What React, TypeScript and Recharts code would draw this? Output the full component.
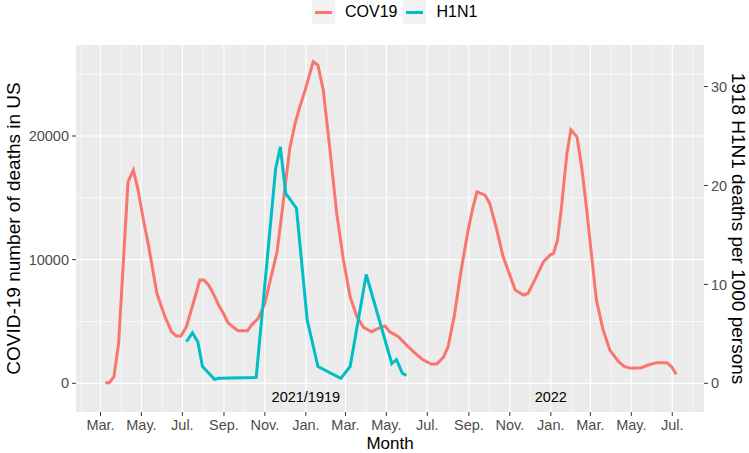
import { LineChart, Line, XAxis, YAxis, CartesianGrid, ReferenceDot } from 'recharts';

// weekly US COVID-19 deaths
const covDates = [
  '2020-03-08', '2020-03-14', '2020-03-21', '2020-03-28', '2020-04-11', '2020-04-19', '2020-04-26',
  '2020-05-04', '2020-05-11', '2020-05-24', '2020-06-05', '2020-06-15', '2020-06-22', '2020-06-29',
  '2020-07-07', '2020-07-20', '2020-07-27', '2020-08-02', '2020-08-09', '2020-08-16', '2020-08-24',
  '2020-08-31', '2020-09-07', '2020-09-15', '2020-09-22', '2020-10-06', '2020-10-12', '2020-10-22',
  '2020-11-01', '2020-11-09', '2020-11-19', '2020-11-28', '2020-12-08', '2020-12-16', '2020-12-23',
  '2020-12-31', '2021-01-07', '2021-01-12', '2021-01-19', '2021-01-27', '2021-02-06', '2021-02-16',
  '2021-02-26', '2021-03-08', '2021-03-18', '2021-03-28', '2021-04-09', '2021-04-19', '2021-04-29',
  '2021-05-06', '2021-05-19', '2021-05-31', '2021-06-13', '2021-06-25', '2021-07-07', '2021-07-15',
  '2021-07-25', '2021-08-01', '2021-08-10', '2021-08-20', '2021-08-30', '2021-09-06', '2021-09-13',
  '2021-09-25', '2021-10-02', '2021-10-12', '2021-10-22', '2021-11-01', '2021-11-09', '2021-11-21',
  '2021-11-28', '2021-12-08', '2021-12-21', '2021-12-31', '2022-01-05', '2022-01-11', '2022-01-17',
  '2022-01-25', '2022-01-31', '2022-02-09', '2022-02-16', '2022-02-23', '2022-03-03', '2022-03-10',
  '2022-03-20', '2022-03-30', '2022-04-12', '2022-04-21', '2022-05-01', '2022-05-16', '2022-05-26',
  '2022-06-08', '2022-06-23', '2022-06-30', '2022-07-07',
];
const covDeaths = [
  50, 50, 530, 3230, 16300, 17240, 15630,
  13200, 11320, 7280, 5390, 4170, 3820, 3820,
  4580, 7000, 8350, 8350, 7950, 7270, 6330,
  5660, 4900, 4530, 4250, 4250, 4710, 5250,
  6470, 8350, 10600, 14500, 19000, 21020, 22360,
  23710, 25060, 26000, 25730, 23710, 18860, 13740,
  9970, 7000, 5390, 4530, 4170, 4450, 4630,
  4170, 3770, 3100, 2430, 1880, 1560, 1560,
  2100, 2960, 5390, 9000, 12130, 14010, 15490,
  15220, 14550, 12530, 10230, 8750, 7540, 7140,
  7270, 8350, 9830, 10370, 10510, 11580, 14280,
  18590, 20500, 19930, 17510, 14280, 10230, 6730,
  4310, 2690, 1750, 1340, 1210, 1260, 1480,
  1670, 1670, 1340, 730,
];

// 1918/1919 H1N1 deaths per 1000, shifted onto 2020/2021
const h1n1Dates = [
  '2020-07-07', '2020-07-16', '2020-07-24', '2020-07-31', '2020-08-18', '2020-08-24', '2020-10-19',
  '2020-11-17', '2020-11-24', '2020-12-02', '2020-12-18', '2021-01-03', '2021-01-19', '2021-02-22',
  '2021-03-08', '2021-04-01', '2021-05-09', '2021-05-16', '2021-05-25', '2021-05-31',
];
const h1n1Rate = [
  4.2, 5.1, 4.2, 1.7, 0.4, 0.5, 0.6,
  21.7, 23.9, 19.2, 17.7, 6.4, 1.7, 0.5,
  1.7, 11.0, 2.0, 2.4, 1.0, 0.8,
];

const majorMonths = [
  '2020-03-01', '2020-05-01', '2020-07-01', '2020-09-01', '2020-11-01', '2021-01-01', '2021-03-01',
  '2021-05-01', '2021-07-01', '2021-09-01', '2021-11-01', '2022-01-01', '2022-03-01', '2022-05-01',
  '2022-07-01',
];
const minorMonths = [
  '2020-02-01', '2020-04-01', '2020-06-01', '2020-08-01', '2020-10-01', '2020-12-01', '2021-02-01',
  '2021-04-01', '2021-06-01', '2021-08-01', '2021-10-01', '2021-12-01', '2022-02-01', '2022-04-01',
  '2022-06-01', '2022-08-01',
];
const monthNames = ['Jan.', 'Feb.', 'Mar.', 'Apr.', 'May.', 'Jun.', 'Jul.', 'Aug.', 'Sep.', 'Oct.', 'Nov.', 'Dec.'];
const leftTicks = [0, 10000, 20000];
const leftMinor = [5000, 15000, 25000];
const rightTicks = [0, 10, 20, 30];
const yearNotes = ['2021-01-01', '2022-01-01'];
const yearText = ['2021/1919', '2022'];

const ORIGIN = Date.UTC(2020, 2, 1);
const toDay = (d: string) => (Date.parse(d) - ORIGIN) / 86400000;

const covData = covDates.map((d, i) => ({ day: toDay(d), deaths: covDeaths[i] }));
const h1n1Data = h1n1Dates.map((d, i) => ({ day: toDay(d), rate: h1n1Rate[i] }));
const xTicks = majorMonths.map(toDay);
const monthLabel = (v: number) => monthNames[new Date(ORIGIN + v * 86400000).getUTCMonth()];

const FONT = '"Liberation Sans", Arial, Helvetica, sans-serif';
const COV_COLOR = '#F8766D';
const H1N1_COLOR = '#00BFC4';

function LeftTitle(props: any) {
  const { viewBox } = props;
  const cx = viewBox.x + 13;
  const cy = viewBox.y + viewBox.height / 2;
  return (
    <text x={cx} y={cy} transform={`rotate(-90 ${cx} ${cy})`} textAnchor="middle" dominantBaseline="central"
      fontSize={19} fill="#000" fontFamily={FONT}>
      COVID-19 number of deaths in US
    </text>
  );
}

function RightTitle(props: any) {
  const { viewBox } = props;
  const cx = viewBox.x + 34;
  const cy = viewBox.y + viewBox.height / 2;
  return (
    <text x={cx} y={cy} transform={`rotate(90 ${cx} ${cy})`} textAnchor="middle" dominantBaseline="central"
      fontSize={19} fill="#000" fontFamily={FONT}>
      1918 H1N1 deaths per 1000 persons
    </text>
  );
}

function BottomTitle(props: any) {
  const { viewBox } = props;
  return (
    <text x={viewBox.x + viewBox.width / 2} y={viewBox.y + 31.5} textAnchor="middle" dominantBaseline="central"
      fontSize={17} fill="#000" fontFamily={FONT}>
      Month
    </text>
  );
}

function LegendKey({ color, label }: { color: string; label: string }) {
  return (
    <div style={{ display: 'flex', alignItems: 'center', marginRight: 6 }}>
      <div style={{ width: 23, height: 24, background: '#F2F2F2', position: 'relative' }}>
        <div style={{ position: 'absolute', left: 3, right: 3, top: 11, height: 3, background: color }} />
      </div>
      <span style={{ marginLeft: 10, fontSize: 16, color: '#000' }}>{label}</span>
    </div>
  );
}

export default function App() {
  return (
    <div style={{ position: 'fixed', left: 0, top: 0, width: 749, height: 453, background: '#fff', fontFamily: FONT }}>
      <div style={{ position: 'absolute', left: 312, top: 0, display: 'flex' }}>
        <LegendKey color={COV_COLOR} label="COV19" />
        <LegendKey color={H1N1_COLOR} label="H1N1" />
      </div>
      <LineChart width={749} height={453} margin={{ top: 45, right: 0, bottom: 0, left: 0 }}>
        <CartesianGrid xAxisId="x" yAxisId="left" fill="#EBEBEB" fillOpacity={1} stroke="#FFFFFF" strokeWidth={0.6}
          horizontalValues={leftMinor} verticalValues={minorMonths.map(toDay)} />
        <CartesianGrid xAxisId="x" yAxisId="left" stroke="#FFFFFF" strokeWidth={1.2}
          horizontalValues={leftTicks} verticalValues={xTicks} />
        <XAxis xAxisId="x" dataKey="day" type="number" domain={[-36.5, 899.3]} allowDataOverflow ticks={xTicks}
          tickFormatter={monthLabel} height={41} axisLine={false} tickSize={4} tickMargin={4}
          tickLine={{ stroke: '#333333' }} tick={{ fill: '#4D4D4D', fontSize: 14.5, fontFamily: FONT }}
          label={{ content: BottomTitle }} />
        <YAxis yAxisId="left" type="number" domain={[-2320, 27360]} allowDataOverflow ticks={leftTicks} width={76}
          axisLine={false} tickSize={4} tickMargin={3} tickLine={{ stroke: '#333333' }}
          tick={{ fill: '#4D4D4D', fontSize: 14.5, fontFamily: FONT }} label={{ content: LeftTitle }} />
        <YAxis yAxisId="right" orientation="right" type="number" domain={[-2.9, 34.2]} allowDataOverflow
          ticks={rightTicks} width={45} axisLine={false} tickSize={4} tickMargin={3}
          tickLine={{ stroke: '#333333' }} tick={{ fill: '#4D4D4D', fontSize: 14.5, fontFamily: FONT }}
          label={{ content: RightTitle }} />
        <Line xAxisId="x" yAxisId="left" data={covData} dataKey="deaths" type="linear" stroke={COV_COLOR}
          strokeWidth={3} dot={false} isAnimationActive={false} />
        <Line xAxisId="x" yAxisId="right" data={h1n1Data} dataKey="rate" type="linear" stroke={H1N1_COLOR}
          strokeWidth={3} dot={false} isAnimationActive={false} />
        {yearNotes.map((d, i) => (
          <ReferenceDot key={d} xAxisId="x" yAxisId="left" x={toDay(d)} y={-1090} r={0} fill="none" stroke="none"
            label={{ value: yearText[i], position: 'center', fontSize: 14.5, fill: '#000', fontFamily: FONT }} />
        ))}
      </LineChart>
    </div>
  );
}
